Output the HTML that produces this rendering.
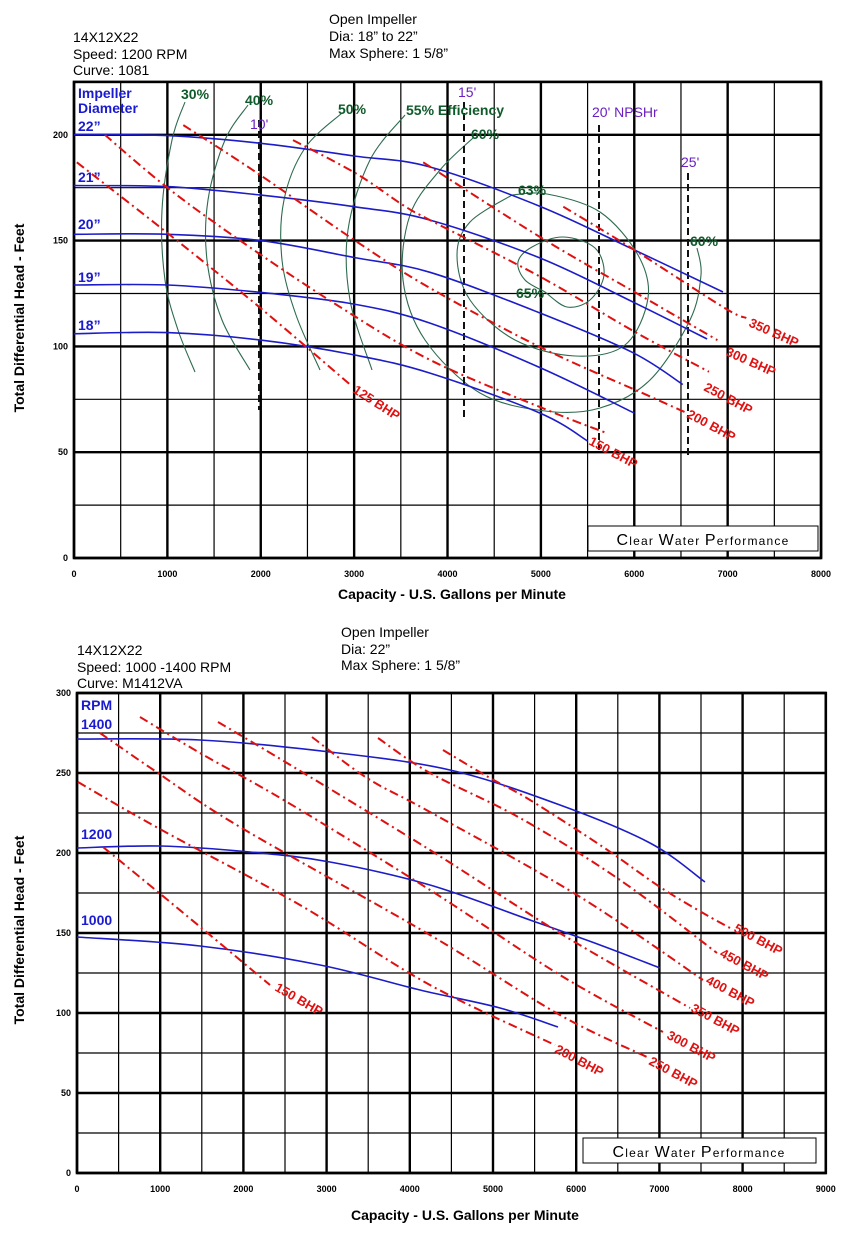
<!DOCTYPE html>
<html><head><meta charset="utf-8"><style>
html,body{margin:0;padding:0;background:#fff}
svg{display:block}
text{font-family:"Liberation Sans",Arial,sans-serif}
.t{font-size:14px;fill:#000}
.tk{font-size:9px;font-weight:bold;fill:#000}
.ax{font-size:14px;font-weight:bold;fill:#000}
.bl{font-size:14px;font-weight:bold;fill:#1a1ad0}
.gr{font-size:14px;font-weight:bold;fill:#0f5a2a}
.pu{font-size:14px;fill:#6a1fc0}
.rd{font-size:13px;font-weight:bold;fill:#e01010}
</style></head><body>
<svg id="s" width="861" height="1235" viewBox="0 0 861 1235" xmlns="http://www.w3.org/2000/svg">
<rect width="861" height="1235" fill="#fff"/>
<g id="g"></g>
<!-- top texts -->
<text class="t" x="73" y="42">14X12X22</text>
<text class="t" x="73" y="59">Speed: 1200 RPM</text>
<text class="t" x="73" y="75">Curve: 1081</text>
<text class="t" x="329" y="24">Open Impeller</text>
<text class="t" x="329" y="41">Dia: 18” to 22”</text>
<text class="t" x="329" y="58">Max Sphere: 1 5/8”</text>
<text class="bl" x="78" y="98">Impeller</text>
<text class="bl" x="78" y="113">Diameter</text>
<text class="bl" x="78" y="131">22”</text>
<text class="bl" x="78" y="182">21”</text>
<text class="bl" x="78" y="229">20”</text>
<text class="bl" x="78" y="282">19”</text>
<text class="bl" x="78" y="330">18”</text>
<text class="gr" x="181" y="99">30%</text>
<text class="gr" x="245" y="105">40%</text>
<text class="gr" x="338" y="114">50%</text>
<text class="gr" x="406" y="115">55% Efficiency</text>
<text class="gr" x="471" y="139">60%</text>
<text class="gr" x="518" y="195">63%</text>
<text class="gr" x="516" y="298">65%</text>
<text class="gr" x="690" y="246">60%</text>
<text class="pu" x="250" y="129">10'</text>
<text class="pu" x="458" y="97">15'</text>
<text class="pu" x="592" y="117">20' NPSHr</text>
<text class="pu" x="681" y="167">25'</text>
<g class="rd">
<text class="rd" transform="translate(352,392) rotate(33)">125 BHP</text>
<text class="rd" transform="translate(588,444) rotate(28)">150 BHP</text>
<text class="rd" transform="translate(686,417) rotate(28)">200 BHP</text>
<text class="rd" transform="translate(703,390) rotate(28)">250 BHP</text>
<text class="rd" transform="translate(725,355) rotate(24)">300 BHP</text>
<text class="rd" transform="translate(748,326) rotate(24)">350 BHP</text>
</g>
<text class="ax" transform="translate(24,318) rotate(-90)" text-anchor="middle">Total Differential Head - Feet</text>
<text class="ax" x="452" y="599" text-anchor="middle">Capacity - U.S. Gallons per Minute</text>
<rect x="588" y="526" width="230" height="25" fill="#fff" stroke="#000" stroke-width="1"/>
<text x="703" y="545" text-anchor="middle" style="font-size:12px;letter-spacing:1.2px"><tspan style="font-size:16px">C</tspan>lear <tspan style="font-size:16px">W</tspan>ater <tspan style="font-size:16px">P</tspan>erformance</text>

<!-- bottom texts -->
<text class="t" x="77" y="655">14X12X22</text>
<text class="t" x="77" y="672">Speed: 1000 -1400 RPM</text>
<text class="t" x="77" y="688">Curve: M1412VA</text>
<text class="t" x="341" y="637">Open Impeller</text>
<text class="t" x="341" y="654">Dia: 22”</text>
<text class="t" x="341" y="670">Max Sphere: 1 5/8”</text>
<text class="bl" x="81" y="710">RPM</text>
<text class="bl" x="81" y="729">1400</text>
<text class="bl" x="81" y="839">1200</text>
<text class="bl" x="81" y="925">1000</text>
<text class="rd" transform="translate(274,990) rotate(30)">150 BHP</text>
<text class="rd" transform="translate(554,1052) rotate(28)">200 BHP</text>
<text class="rd" transform="translate(648,1064) rotate(28)">250 BHP</text>
<text class="rd" transform="translate(666,1038) rotate(28)">300 BHP</text>
<text class="rd" transform="translate(690,1011) rotate(28)">350 BHP</text>
<text class="rd" transform="translate(705,983) rotate(28)">400 BHP</text>
<text class="rd" transform="translate(719,956) rotate(28)">450 BHP</text>
<text class="rd" transform="translate(733,931) rotate(28)">500 BHP</text>
<text class="ax" transform="translate(24,930) rotate(-90)" text-anchor="middle">Total Differential Head - Feet</text>
<text class="ax" x="465" y="1220" text-anchor="middle">Capacity - U.S. Gallons per Minute</text>
<rect x="583" y="1138" width="233" height="25" fill="#fff" stroke="#000" stroke-width="1"/>
<text x="699" y="1157" text-anchor="middle" style="font-size:12px;letter-spacing:1.2px"><tspan style="font-size:16px">C</tspan>lear <tspan style="font-size:16px">W</tspan>ater <tspan style="font-size:16px">P</tspan>erformance</text>
</svg>
<script>
var NS="http://www.w3.org/2000/svg",g=document.getElementById("g");
function el(n,a){var e=document.createElementNS(NS,n);for(var k in a)e.setAttribute(k,a[k]);g.appendChild(e);return e;}
function txt(x,y,s,anc){var e=el("text",{x:x,y:y,"class":"tk","text-anchor":anc});e.textContent=s;}
function sm(p){var d="M"+p[0][0].toFixed(1)+","+p[0][1].toFixed(1);
 for(var i=0;i<p.length-1;i++){var p0=p[i-1]||p[i],p1=p[i],p2=p[i+1],p3=p[i+2]||p2;
  d+=" C"+(p1[0]+(p2[0]-p0[0])/6).toFixed(1)+","+(p1[1]+(p2[1]-p0[1])/6).toFixed(1)+" "+(p2[0]-(p3[0]-p1[0])/6).toFixed(1)+","+(p2[1]-(p3[1]-p1[1])/6).toFixed(1)+" "+p2[0].toFixed(1)+","+p2[1].toFixed(1);}
 return d;}
function T(q,h){return[74+q*0.09338,558-h*2.116];}
function B(q,h){return[77+q*0.0832,1173-h*1.6];}
function grid(M,qmax,hmax,x0,y0,lx,ly){
 for(var q=0;q<=qmax;q+=500){var a=M(q,0),b=M(q,hmax);el("line",{x1:a[0],y1:a[1],x2:b[0],y2:b[1],stroke:"#000","stroke-width":q%1000?1.2:2.4});
  if(q%1000==0)txt(a[0],a[1]+lx,String(q),"middle");}
 for(var h=0;h<=hmax;h+=25){var a=M(0,h),b=M(qmax,h);el("line",{x1:a[0],y1:a[1],x2:b[0],y2:b[1],stroke:"#000","stroke-width":h%50?1.2:2.4});
  if(h%50==0)txt(a[0]-6,a[1]+3,String(h),"end");}
 var a=M(0,hmax),b=M(qmax,0);el("rect",{x:a[0],y:a[1],width:b[0]-a[0],height:b[1]-a[1],fill:"none",stroke:"#000","stroke-width":2.6});
}
grid(T,8000,225,0,0,19);
grid(B,9000,300,0,0,19);
function curve(M,data,st){el("path",Object.assign({d:sm(data.map(function(v){return M(v[0],v[1]);})),fill:"none"},st));}
function pix(pts,st){el("path",Object.assign({d:sm(pts),fill:"none"},st));}
var G={stroke:"#2d6b4e","stroke-width":1.1};
// efficiency
pix([[185,102],[172,140],[162,210],[165,280],[178,330],[195,372]],G);
pix([[248,105],[225,140],[208,200],[207,260],[222,320],[250,370]],G);
pix([[342,113],[305,148],[284,200],[282,260],[296,315],[320,370]],G);
pix([[405,115],[370,160],[348,230],[350,300],[372,370]],G);
pix([[473,138],[440,170],[410,215],[403,280],[425,340],[480,393],[545,411],[600,408],[650,380],[690,320],[701,275],[697,248]],G);
pix([[512,195],[547,194],[600,212],[638,255],[648,298],[625,345],[575,356],[515,340],[470,300],[457,255],[470,222],[512,195]],G);
pix([[545,292],[525,280],[518,262],[532,247],[563,237],[595,248],[604,275],[590,300],[567,307],[545,292]],G);
// NPSH
var K={stroke:"#111","stroke-width":2,"stroke-dasharray":"7,4"};
[[259,120,410],[464,102,418],[599,125,450],[688,173,455]].forEach(function(v){el("line",Object.assign({x1:v[0],y1:v[1],x2:v[0],y2:v[2]},K));});
// heads top
var BL={stroke:"#1c1cc8","stroke-width":1.6};
curve(T,[[0,200],[1000,199.6],[2000,196],[3000,190],[3812,184.8],[5000,166],[6000,145.6],[6950,125.7]],BL);
curve(T,[[0,176],[1000,175.5],[2000,171.5],[3000,166],[3812,159.7],[4990,141.8],[5986,121],[6780,103.5]],BL);
curve(T,[[0,153],[1000,153],[2000,150],[3000,142],[3812,135],[4990,115.8],[5986,97],[6520,82]],BL);
curve(T,[[0,129],[1000,129],[2000,125.5],[3000,120],[3812,111],[4990,90],[6000,68.5]],BL);
curve(T,[[0,106],[1000,106.5],[2000,103],[3000,96],[3812,87.4],[4990,68.5],[5500,55.3]],BL);
// BHP top
var R={stroke:"#e01010","stroke-width":2,"stroke-dasharray":"9,4,2,4"};
curve(T,[[30,187],[1000,153.6],[2000,118],[2956,82]],R);
curve(T,[[330,200],[1000,175],[1780,150],[2800,120],[3812,93.6],[5065,70],[5708,59]],R);
curve(T,[[1170,204.6],[1960,182],[3010,150],[3812,127.6],[4990,99.7],[6136,77],[6565,68.5]],R);
curve(T,[[2345,197.5],[3010,182],[3523,166.8],[3812,159.7],[4990,133],[6000,107],[6800,88]],R);
curve(T,[[3740,187],[4990,151.7],[6030,125],[6890,103]],R);
curve(T,[[5240,166],[5950,147],[6950,118.6],[7200,113.4]],R);
// bottom heads
pix([[77,739],[200,740],[330,752],[450,770],[560,805],[650,843],[705,882]],BL);
pix([[77,848],[160,846],[250,852],[330,862],[430,885],[530,920],[600,945],[660,968]],BL);
pix([[77,937],[200,946],[320,965],[420,990],[500,1008],[558,1027]],BL);
// bottom BHP
pix([[103,847],[158,892],[210,935],[270,985]],R);
pix([[78,782],[158,828],[300,905],[430,985],[555,1045]],R);
pix([[100,733],[158,773],[240,827],[430,935],[560,1015],[647,1057]],R);
pix([[140,717],[200,753],[287,802],[430,890],[560,975],[663,1032]],R);
pix([[218,722],[287,763],[430,850],[563,935],[690,1008]],R);
pix([[312,737],[367,778],[430,812],[577,895],[703,980]],R);
pix([[378,738],[430,773],[520,818],[620,880],[717,953]],R);
pix([[443,750],[490,778],[530,800],[603,847],[660,887],[703,913],[730,928]],R);
</script>
</body></html>
